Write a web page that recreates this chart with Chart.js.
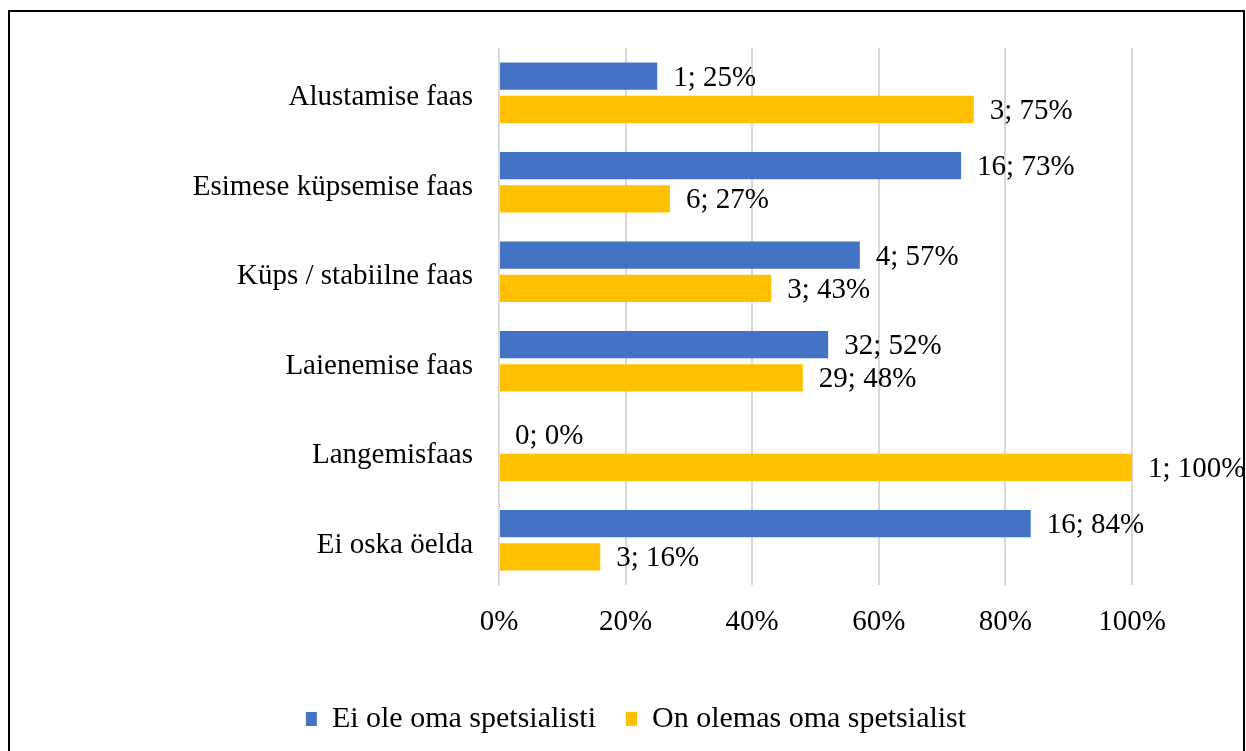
<!DOCTYPE html>
<html lang="et">
<head>
  <meta charset="UTF-8" />
  <title>Spetsialisti olemasolu faaside kaupa</title>
  <script src="https://cdn.jsdelivr.net/npm/chart.js"></script>
  <style>
    body { margin: 0; background: #fff; }
    .frame {
      position: absolute; left: 8px; top: 10px;
      width: 1233px; height: 800px;
      border: 2px solid #000;
    }
    .frame canvas { display: block; }
  </style>
</head>
<body>
  <div class="frame">
    <canvas id="chart" width="1233" height="739"></canvas>
  </div>

  <script>
    // Data
    const categories = ['Alustamise faas', 'Esimese küpsemise faas', 'Küps / stabiilne faas',
                        'Laienemise faas', 'Langemisfaas', 'Ei oska öelda'];
    const seriesNames = ['Ei ole oma spetsialisti', 'On olemas oma spetsialist'];
    const noSpecPct = [25, 73, 57, 52, 0, 84];
    const noSpecCount = [1, 16, 4, 32, 0, 16];
    const hasSpecPct = [75, 27, 43, 48, 100, 16];
    const hasSpecCount = [3, 6, 3, 29, 1, 3];
    const xTicks = [0, 20, 40, 60, 80, 100];

    const FONT = "'Liberation Serif', 'Times New Roman', serif";

    // "count; pct%" labels at the bar ends
    const barLabels = {
      id: 'barLabels',
      afterDatasetsDraw(chart) {
        const ctx = chart.ctx;
        ctx.save();
        ctx.font = '29px ' + FONT;
        ctx.fillStyle = '#000';
        ctx.textAlign = 'left';
        ctx.textBaseline = 'middle';
        chart.data.datasets.forEach((ds, di) => {
          chart.getDatasetMeta(di).data.forEach((bar, i) => {
            ctx.fillText(ds.counts[i] + '; ' + ds.data[i] + '%', bar.x + 16, bar.y + 2);
          });
        });
        ctx.restore();
      }
    };

    new Chart(document.getElementById('chart'), {
      type: 'bar',
      data: {
        labels: categories,
        datasets: [
          { label: seriesNames[0], data: noSpecPct, counts: noSpecCount, backgroundColor: '#4472C4' },
          { label: seriesNames[1], data: hasSpecPct, counts: hasSpecCount, backgroundColor: '#FFC000' }
        ]
      },
      options: {
        indexAxis: 'y',
        responsive: false,
        animation: false,
        categoryPercentage: 0.74,
        barPercentage: 0.82,
        layout: { padding: { left: 130, right: 111, top: 36, bottom: 7 } },
        scales: {
          x: {
            min: 0, max: 100,
            afterBuildTicks: s => { s.ticks = xTicks.map(v => ({ value: v })); },
            ticks: { callback: v => v + '%', color: '#000', padding: 20, font: { family: FONT, size: 29 } },
            grid: { color: '#d9d9d9', lineWidth: 2, drawTicks: false },
            border: { display: false },
            afterFit: s => { s.height = 89; }
          },
          y: {
            ticks: { color: '#000', padding: 26, labelOffset: 5, font: { family: FONT, size: 29 } },
            grid: { display: false, drawTicks: false },
            border: { display: false },
            afterFit: s => { s.width = 359; s.paddingTop = 0; s.paddingBottom = 0; }
          }
        },
        plugins: {
          legend: {
            position: 'bottom',
            labels: {
              color: '#000', boxWidth: 11, boxHeight: 14, padding: 30,
              font: { family: FONT, size: 30 }
            }
          },
          tooltip: { enabled: false }
        }
      },
      plugins: [barLabels]
    });
  </script>
</body>
</html>
